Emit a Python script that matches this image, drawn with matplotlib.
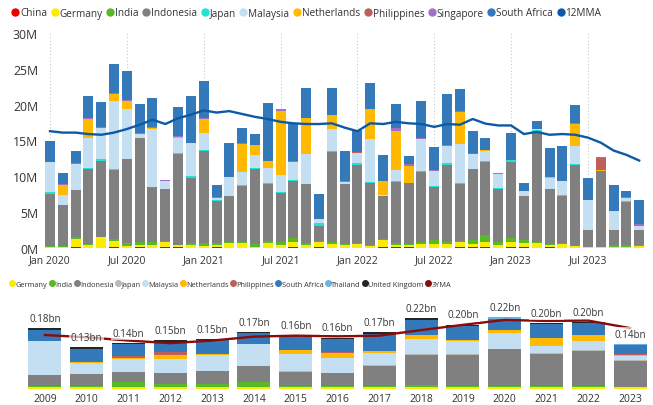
import matplotlib
matplotlib.use("Agg")
import matplotlib.pyplot as plt
import numpy as np
from matplotlib.lines import Line2D

plt.rcParams['font.family'] = ['Open Sans', 'DejaVu Sans']

# ---------------- Top chart data (millions) ----------------
months = ["Jan 2020","Feb 2020","Mar 2020","Apr 2020","May 2020","Jun 2020","Jul 2020","Aug 2020","Sep 2020","Oct 2020","Nov 2020","Dec 2020",
          "Jan 2021","Feb 2021","Mar 2021","Apr 2021","May 2021","Jun 2021","Jul 2021","Aug 2021","Sep 2021","Oct 2021","Nov 2021","Dec 2021",
          "Jan 2022","Feb 2022","Mar 2022","Apr 2022","May 2022","Jun 2022","Jul 2022","Aug 2022","Sep 2022","Oct 2022","Nov 2022","Dec 2022",
          "Jan 2023","Feb 2023","Mar 2023","Apr 2023","May 2023","Jun 2023","Jul 2023","Aug 2023","Sep 2023","Oct 2023","Nov 2023"]

china = [0,0,0.2,0,0,0.15,0,0.15,0,0.19,0.19,0,
         0,0.19,0,0,0,0,0,0.15,0,0.15,0,0,
         0,0,0.19,0.19,0.19,0,0,0,0.15,0.1,0.15,0,
         0.15,0.15,0,0.15,0,0,0,0,0,0,0]
germany = [0.19,0.19,1.07,0.45,1.5,0.85,0.33,0.28,0.45,0.7,0.19,0.37,
           0.33,0.28,0.7,0.7,0.19,0.7,0.4,0.65,0.4,0.65,0.56,0.4,
           0.56,0.33,0.98,0.19,0.19,0.56,0.56,0.56,0.65,0.5,0.65,0.4,
           0.65,0.5,0.7,0.33,0.56,0.23,0.14,0.14,0.14,0.19,0.3]
india = [0.14,0.1,0.2,0.1,0.1,0.19,0.37,0.37,0.37,0.14,0.1,0.33,
         0.37,0.23,0.19,0.19,0.33,0.33,0.4,0.56,0.28,0.19,0.28,0.14,
         0.14,0.14,0.1,0.37,0.23,0.28,0.56,0.28,0.14,0.47,0.98,0.37,
         0.56,0.47,0.14,0.1,0.14,0.1,0,0,0.28,0.23,0.05]
indonesia = [7.2,5.7,6.65,10.5,10.5,9.7,11.7,14.5,7.7,7.25,12.65,9.07,
             12.8,5.9,6.3,7.8,10.5,7.9,6.9,7.95,8.23,2.1,12.5,8.4,
             10.9,8.65,6.05,8.4,8.4,9.7,7.44,10.7,8.0,10.0,10.2,7.44,
             10.7,6.14,15.3,7.63,6.6,11.25,2.42,10.6,2.14,6.0,2.1]
japan = [0.23,0,0,0.14,0.3,0.19,0,0,0,0,0.14,0.33,
         0.14,0.14,0.1,0.14,0.19,0.19,0.14,0.19,0,0.33,0.19,0,
         0.28,0.1,0,0.14,0,0.23,0.14,0.28,0.19,0,0.14,0.14,
         0.28,0,0.28,0,0.14,0.14,0,0,0,0.14,0]
malaysia = [4.2,1.4,3.6,4.2,4.3,9.4,7.0,0.6,8.05,1.07,2.05,4.56,
            2.37,0.2,2.65,1.72,1.77,2.05,2.33,2.5,4.2,0.56,3.07,0.23,
            1.4,6.0,0.14,1.63,0,4.4,2.0,2.4,5.44,2.1,1.4,1.95,
            0,0.65,0.23,1.53,1.9,2.56,4.14,0,2.6,0.42,0.56]
netherlands = [0,1.45,0,2.65,0,1.07,1.16,0,0.2,0,0.23,0,
               2.0,0,0,3.95,1.4,0.98,8.98,0,5.0,0,1.95,0,
               0,4.19,1.95,5.44,2.5,0,0,0,4.37,0,0.14,0,
               0,0,0,0.14,0,3.0,0,0.14,0,0,0]
philippines = [0,0,0,0,0,0,0,0,0,0,0,0,
               0,0,0,0,0,0,0,0,0,0,0,0.1,
               0.14,0,0,0,0,0,0,0,0,0.14,0,0,
               0,0,0,0,0,0,0,1.72,0,0,0]
singapore = [0,0.1,0.15,0.1,0.14,0.1,0.1,0.14,0.1,0.14,0.1,0,
             0.1,0.2,0,0.2,0,0,0.2,0.19,0,0,0,0.12,
             0,0,0,0.33,0.19,0.14,0.14,0.14,0.14,0,0,0.14,
             0,0,0,0,0,0.14,0,0.14,0,0.14,0.28]
south_africa = [3.0,1.5,1.6,3.0,3.6,4.05,4.1,4.0,4.0,0,4.05,6.5,
                5.2,1.67,4.75,2.05,1.53,8.1,0,5.3,4.2,3.6,3.77,4.14,
                3.07,3.63,3.6,3.44,1.07,5.16,3.3,7.07,3.07,3.07,1.67,0,
                3.67,1.12,1.07,4.05,4.9,2.5,3.07,0,3.63,0.84,3.35]
mma12 = [16.3,16.1,16.1,15.9,15.8,16.1,16.6,17.2,17.9,17.3,18.1,18.6,
         19.2,18.9,19.1,18.7,18.3,18.0,17.6,17.4,17.3,17.3,17.4,16.8,
         16.3,17.4,17.3,17.6,17.4,17.3,16.9,17.3,17.2,18.0,17.35,17.1,
         17.1,15.9,16.2,15.8,15.9,15.8,15.4,14.7,13.6,13.0,12.2]

top_series = [("China", china, "#e60000"), ("Germany", germany, "#fbec00"),
              ("India", india, "#56b925"), ("Indonesia", indonesia, "#808080"),
              ("Japan", japan, "#22e3d2"), ("Malaysia", malaysia, "#c4dff2"),
              ("Netherlands", netherlands, "#ffb900"), ("Philippines", philippines, "#bd5f5b"),
              ("Singapore", singapore, "#a06fc8"), ("South Africa", south_africa, "#3479b9")]
mma_color = "#0c5aa6"

# ---------------- Bottom chart data (bn) ----------------
years = ["2009","2010","2011","2012","2013","2014","2015","2016","2017","2018","2019","2020","2021","2022","2023"]
y_germany = [.005,.005,.005,.005,.005,.005,.005,.005,.005,.005,.005,.005,.005,.005,.005]
y_india = [.004,.004,.016,.010,.010,.016,.004,.004,.004,.007,.004,.004,.004,.004,.002]
y_indonesia = [.034,.037,.031,.034,.040,.049,.043,.040,.061,.092,.095,.113,.098,.107,.079]
y_japan = [0,0,0,0,0,0,.003,0,.003,.003,.003,0,.003,.003,.003]
y_malaysia = [.104,.034,.040,.043,.049,.067,.052,.046,.037,.046,.040,.049,.021,.028,.012]
y_netherlands = [0,.004,.003,.012,.003,0,.012,.015,.006,.012,.003,.009,.024,.018,.003]
y_philippines = [0,0,.006,.009,0,0,0,.003,0,0,0,0,0,0,.003]
y_south_africa = [.034,.039,.037,.031,.043,.034,.042,.040,.052,.047,.043,.034,.043,.036,.028]
y_thailand = [0,0,0,0,0,0,0,0,0,0,0,.005,0,0,.003]
y_uk = [.004,.006,.003,.006,.003,.003,.002,.004,.006,.004,.004,0,.004,.003,0]
yma3 = [0.165,0.158,0.148,0.140,0.148,0.160,0.163,0.161,0.163,0.180,0.196,0.211,0.208,0.209,0.186]

bottom_series = [("Germany", y_germany, "#fbec00"), ("India", y_india, "#56b925"),
                 ("Indonesia", y_indonesia, "#808080"), ("Japan", y_japan, "#b9b9b9"),
                 ("Malaysia", y_malaysia, "#c4dff2"), ("Netherlands", y_netherlands, "#ffb900"),
                 ("Philippines", y_philippines, "#bd5f5b"), ("South Africa", y_south_africa, "#3479b9"),
                 ("Thailand", y_thailand, "#6cb3e3"), ("United Kingdom", y_uk, "#252525")]
yma_color = "#8b0a0a"

text_color = "#333333"

fig = plt.figure(figsize=(6.53, 4.06), dpi=100)

# ---------------- Top axes ----------------
ax1 = fig.add_axes([43.6/653, (406-249)/406, 602/653, (249-34)/406])
x = np.arange(len(months))
base = np.zeros(len(months))
for name, vals, col in top_series:
    v = np.array(vals, dtype=float)
    ax1.bar(x, v, bottom=base, width=0.78, color=col, linewidth=0, zorder=2)
    base += v
ax1.plot(x, mma12, color=mma_color, lw=1.7, zorder=3)
ax1.set_xlim(-0.5, len(months)-0.5)
ax1.set_ylim(0, 30)
ax1.set_yticks([0,5,10,15,20,25,30])
ax1.set_yticklabels([f"{v}M" for v in [0,5,10,15,20,25,30]])
tick_idx = list(range(0, len(months), 6))
ax1.set_xticks(tick_idx)
ax1.set_xticklabels([months[i] for i in tick_idx])
for i in tick_idx:
    ax1.axvline(i, color="#c8c8c8", lw=0.8, ls=(0,(1,2)), zorder=1)
for s in ax1.spines.values():
    s.set_visible(False)
ax1.tick_params(axis='both', length=0, colors=text_color)
ax1.tick_params(axis='y', labelsize=8.8, pad=4)
ax1.tick_params(axis='x', labelsize=7.5, pad=4.5)

h1 = [Line2D([], [], marker='o', ls='', color=c, markersize=5) for _, _, c in top_series]
h1.append(Line2D([], [], marker='o', ls='', color=mma_color, markersize=5))
l1 = [n for n, _, _ in top_series] + ["12MMA"]
fig.legend(h1, l1, loc='center left', bbox_to_anchor=(12/653, 1-14/406), ncol=11, frameon=False,
           fontsize=7.2, handlelength=0.6, handletextpad=0.2, columnspacing=0.45, borderpad=0,
           borderaxespad=0, labelcolor=text_color)

# ---------------- Bottom axes ----------------
ax2 = fig.add_axes([24/653, (406-390)/406, 627/653, 90/406])
xb = np.arange(len(years))
base2 = np.zeros(len(years))
for name, vals, col in bottom_series:
    v = np.array(vals, dtype=float)
    ax2.bar(xb, v, bottom=base2, width=0.79, color=col, linewidth=0, zorder=2)
    base2 += v
ax2.plot(xb, yma3, color=yma_color, lw=1.7, zorder=3)
for xi, t in zip(xb, base2):
    ax2.annotate(f"{t:.2f}bn", (xi, t), xytext=(0, 7), textcoords='offset points',
                 ha='center', va='center', fontsize=7, color=text_color, zorder=4,
                 bbox=dict(boxstyle='square,pad=0.15', fc='white', ec='none', alpha=0.65))
ax2.set_xlim(-0.5, len(years)-0.5)
ax2.set_ylim(0, 0.275)
ax2.set_xticks(xb)
ax2.set_xticklabels(years)
ax2.set_yticks([])
for s in ax2.spines.values():
    s.set_visible(False)
ax2.tick_params(axis='x', length=0, colors=text_color, labelsize=7.5, pad=3)

h2 = [Line2D([], [], marker='o', ls='', color=c, markersize=4) for _, _, c in bottom_series]
h2.append(Line2D([], [], marker='o', ls='', color=yma_color, markersize=4))
l2 = [n for n, _, _ in bottom_series] + ["3YMA"]
fig.legend(h2, l2, loc='center left', bbox_to_anchor=(10/653, 1-285/406), ncol=11, frameon=False,
           fontsize=5.3, handlelength=0.6, handletextpad=0.15, columnspacing=0.3, borderpad=0,
           borderaxespad=0, labelcolor=text_color)

fig.savefig("out.png", dpi=100)
